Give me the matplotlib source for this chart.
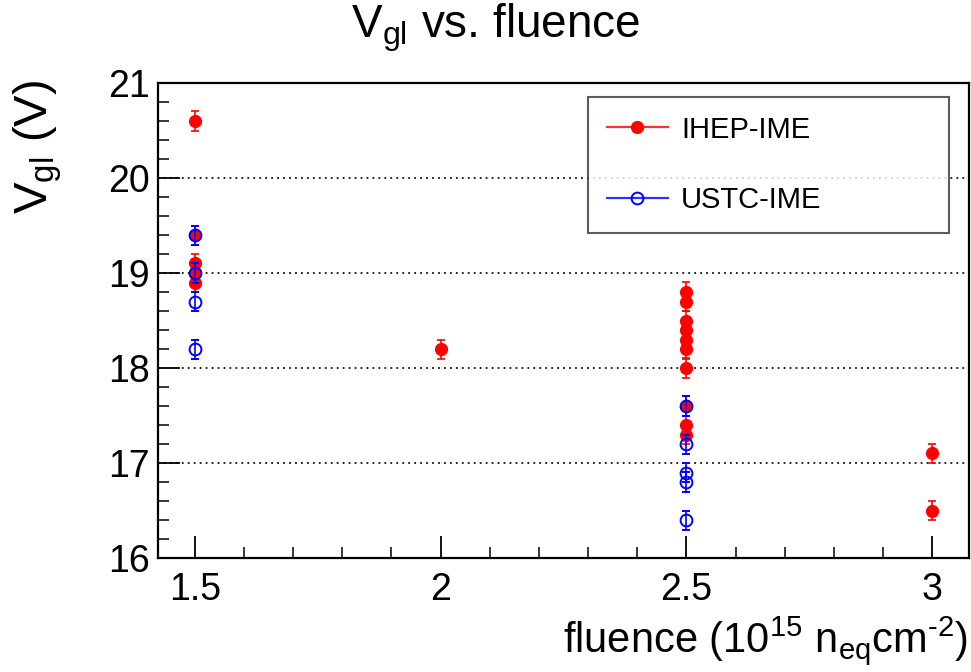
import matplotlib
matplotlib.use("Agg")
import matplotlib.pyplot as plt
from matplotlib.lines import Line2D
from matplotlib.ticker import MultipleLocator

plt.rcParams['font.family'] = ['Liberation Sans', 'DejaVu Sans']
plt.rcParams['mathtext.fontset'] = 'custom'
plt.rcParams['mathtext.rm'] = 'Liberation Sans'
plt.rcParams['mathtext.it'] = 'Liberation Sans:italic'
plt.rcParams['mathtext.bf'] = 'Liberation Sans:bold'

# Data
ihep_x = [1.5, 1.5, 1.5, 1.5, 1.5, 2.0,
          2.5, 2.5, 2.5, 2.5, 2.5, 2.5, 2.5, 2.5, 2.5, 2.5,
          3.0, 3.0]
ihep_y = [20.6, 19.4, 19.1, 19.0, 18.9, 18.2,
          18.8, 18.7, 18.5, 18.4, 18.3, 18.2, 18.0, 17.6, 17.4, 17.3,
          17.1, 16.5]
ihep_err = [0.1] * len(ihep_y)

ustc_x = [1.5, 1.5, 1.5, 1.5, 2.5, 2.5, 2.5, 2.5, 2.5]
ustc_y = [19.4, 19.0, 18.7, 18.2, 17.6, 17.2, 16.9, 16.8, 16.4]
ustc_err = [0.1] * len(ustc_y)

labels = ["IHEP-IME", "USTC-IME"]
x_ticks = [1.5, 2.0, 2.5, 3.0]
x_ticklabels = ["1.5", "2", "2.5", "3"]
y_ticks = [16, 17, 18, 19, 20, 21]

fig = plt.figure(figsize=(9.71, 6.72), dpi=100)
ax = fig.add_axes([158/971, 1-558/672, (969-158)/971, (558-83)/672])

for y in [17, 18, 19, 20]:
    ax.axhline(y, color='#111111', lw=1.3, ls=(0, (1, 2.3)), zorder=1)

ax.errorbar(ihep_x, ihep_y, yerr=ihep_err, fmt='o', color='red', ms=8.5,
            mfc='red', mec='red', ecolor='red', elinewidth=1.2, capsize=3,
            capthick=1.2, zorder=3)
ax.errorbar(ustc_x, ustc_y, yerr=ustc_err, fmt='o', color='blue', ms=8.5,
            mfc='none', mec='blue', mew=1.4, ecolor='blue', elinewidth=1.2,
            capsize=3, capthick=1.2, zorder=4)

ax.set_xlim(1.425, 3.075)
ax.set_ylim(16, 21)
ax.set_xticks(x_ticks)
ax.set_xticklabels(x_ticklabels)
ax.set_yticks(y_ticks)
ax.xaxis.set_minor_locator(MultipleLocator(0.1))
ax.yaxis.set_minor_locator(MultipleLocator(0.2))
ax.tick_params(which='major', direction='in', length=16, width=1.3,
               labelsize=27, top=False, right=False, color='black')
ax.tick_params(which='minor', direction='in', length=8, width=1.1,
               top=False, right=False)
ax.tick_params(axis='x', which='major', pad=10)
ax.tick_params(axis='y', which='major', pad=6)
for s in ax.spines.values():
    s.set_linewidth(1.6)
    s.set_color('black')

fig.text(496/971, 1-37/672, r"$\mathrm{V}_{\mathrm{gl}}$ vs. fluence",
         ha='center', va='baseline', fontsize=33)
fig.text(968/971, 1-652/672,
         "fluence (10$^{\\mathrm{15}}$ n$_{\\mathrm{eq}}$cm$^{\\mathrm{\u20102}}$)",
         ha='right', va='baseline', fontsize=30)
fig.text(11/971, 1-80/672, r"$\mathrm{V}_{\mathrm{gl}}$ (V)", rotation=90,
         ha='left', va='top', fontsize=34)

handles = [
    Line2D([0], [0], color='#ff3030', lw=1.6, marker='o', ms=8.5,
           mfc='red', mec='red'),
    Line2D([0], [0], color='#3030ff', lw=1.6, marker='o', ms=8.5,
           mfc='none', mec='blue', mew=1.4),
]
leg = ax.legend(handles, labels, loc='upper left',
                bbox_to_anchor=(588/971, 1-233/672, (949-588)/971, (233-97)/672),
                bbox_transform=fig.transFigure, mode='expand',
                fontsize=21, frameon=True, fancybox=False, shadow=False,
                borderpad=0.64, labelspacing=1.45, handlelength=2.1,
                handletextpad=0.45, borderaxespad=0)
leg.get_frame().set_edgecolor('#333333')
leg.get_frame().set_linewidth(1.5)

fig.savefig("out.png", dpi=100)
